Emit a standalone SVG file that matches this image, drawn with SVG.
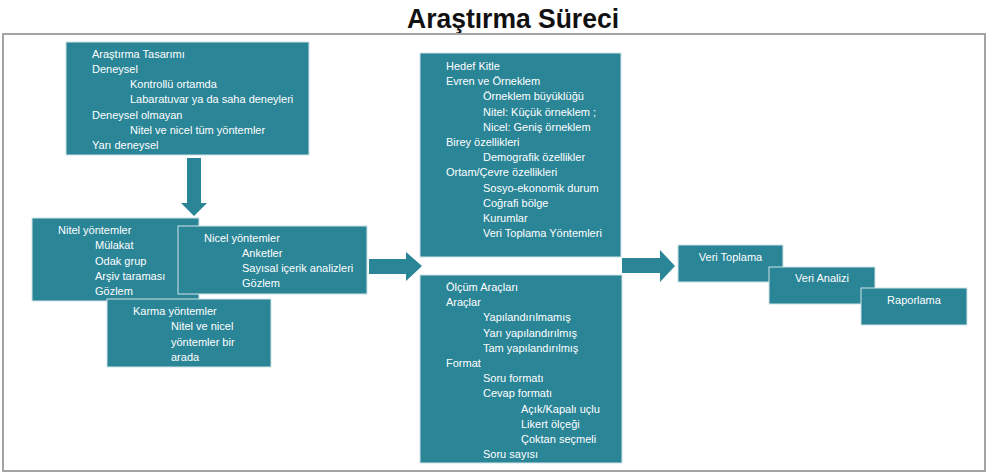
<svg xmlns="http://www.w3.org/2000/svg" width="988" height="474" viewBox="0 0 988 474">
<style>
.box{fill:#2a8597;stroke:#cfe3e8;stroke-width:1}
.arr{fill:#2a8597}
text{font-family:"Liberation Sans",Arial,sans-serif;font-size:11px;fill:#ffffff}
.title{font-size:27px;font-weight:bold;fill:#111111}
.c{text-anchor:middle}
</style>
<rect width="988" height="474" fill="#ffffff"/>
<text class="title" x="513" y="28" text-anchor="middle" textLength="212" lengthAdjust="spacingAndGlyphs">Araştırma Süreci</text>
<rect x="3" y="34" width="982" height="437" fill="none" stroke="#a3a3a3" stroke-width="2"/>

<g id="connectors">
<polygon class="arr" points="187,158 201,158 201,203 207,203 194,216 181,203 187,203"/>
<polygon class="arr" points="369,259 406,259 406,252 422,266 406,281 406,274 369,274"/>
<polygon class="arr" points="622,258 660,258 660,250 675,266 660,282 660,273 622,273"/>
</g>

<g id="design">
<rect class="box" x="66" y="42" width="243" height="113"/>
<text x="92" y="57.5">Araştırma Tasarımı</text>
<text x="92" y="72.8">Deneysel</text>
<text x="130" y="88.1">Kontrollü ortamda</text>
<text x="130" y="103.4">Labaratuvar ya da saha deneyleri</text>
<text x="92" y="118.7">Deneysel olmayan</text>
<text x="130" y="134">Nitel ve nicel tüm yöntemler</text>
<text x="92" y="149.3">Yarı deneysel</text>
</g>

<g id="nitel">
<rect class="box" x="32" y="218" width="167" height="83"/>
<text x="58" y="234">Nitel yöntemler</text>
<text x="95" y="249.3">Mülakat</text>
<text x="95" y="264.6">Odak grup</text>
<text x="95" y="279.9">Arşiv taraması</text>
<text x="95" y="295.2">Gözlem</text>
</g>

<g id="nicel">
<rect class="box" x="178" y="226" width="189" height="68"/>
<text x="204" y="242.3">Nicel yöntemler</text>
<text x="242" y="257.2">Anketler</text>
<text x="242" y="272.3">Sayısal içerik analizleri</text>
<text x="242" y="287.4">Gözlem</text>
</g>

<g id="karma">
<rect class="box" x="107" y="299" width="164" height="68"/>
<text x="133" y="315">Karma yöntemler</text>
<text x="171" y="330.4">Nitel ve nicel</text>
<text x="171" y="345.8">yöntemler bir</text>
<text x="171" y="361.2">arada</text>
</g>

<g id="hedef">
<rect class="box" x="420" y="53" width="201" height="204"/>
<text x="446" y="70">Hedef Kitle</text>
<text x="446" y="85.2">Evren ve Örneklem</text>
<text x="483" y="100.4">Örneklem büyüklüğü</text>
<text x="483" y="115.6">Nitel: Küçük örneklem ;</text>
<text x="483" y="130.8">Nicel: Geniş örneklem</text>
<text x="446" y="146">Birey özellikleri</text>
<text x="483" y="161.2">Demografik özellikler</text>
<text x="446" y="176.4">Ortam/Çevre özellikleri</text>
<text x="483" y="191.6">Sosyo-ekonomik durum</text>
<text x="483" y="206.8">Coğrafi bölge</text>
<text x="483" y="222">Kurumlar</text>
<text x="483" y="237.2">Veri Toplama Yöntemleri</text>
</g>

<g id="olcum">
<rect class="box" x="420" y="275" width="202" height="188"/>
<text x="446" y="291">Ölçüm Araçları</text>
<text x="446" y="306.2">Araçlar</text>
<text x="483" y="321.4">Yapılandırılmamış</text>
<text x="483" y="336.6">Yarı yapılandırılmış</text>
<text x="483" y="351.8">Tam yapılandırılmış</text>
<text x="446" y="367">Format</text>
<text x="483" y="382.2">Soru formatı</text>
<text x="483" y="397.4">Cevap formatı</text>
<text x="521" y="412.6">Açık/Kapalı uçlu</text>
<text x="521" y="427.8">Likert ölçeği</text>
<text x="521" y="443">Çoktan seçmeli</text>
<text x="483" y="458.2">Soru sayısı</text>
</g>

<g id="veri-toplama">
<rect class="box" x="678" y="245" width="105" height="37"/>
<text class="c" x="730.5" y="261">Veri Toplama</text>
</g>

<g id="veri-analizi">
<rect class="box" x="769" y="267" width="106" height="37"/>
<text class="c" x="822" y="282">Veri Analizi</text>
</g>

<g id="raporlama">
<rect class="box" x="861" y="288" width="106" height="37"/>
<text class="c" x="914" y="304">Raporlama</text>
</g>
</svg>
